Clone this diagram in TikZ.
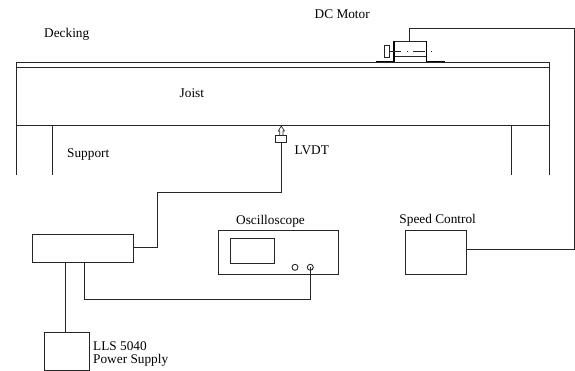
\documentclass[tikz,border=0pt]{standalone}
\usepackage{fontspec}
\setmainfont{Liberation Serif}
\usetikzlibrary{arrows.meta,positioning,calc}

\begin{document}
\begin{tikzpicture}[
    x=1pt, y=-1pt,
    font=\fontsize{13.3}{13}\selectfont,
    box/.style 2 args={
        draw=black!85, line width=0.9pt, fill=none, inner sep=0pt, outer sep=0pt,
        anchor=north west, minimum width=#1pt, minimum height=#2pt},
    knob/.style={
        circle, draw=black!85, line width=0.9pt, inner sep=0pt, outer sep=0pt,
        minimum size=6pt},
    lbl/.style={anchor=west, inner sep=0pt, align=left},
    wire/.style={draw=black!85, line width=0.9pt},
    foot/.style={draw=black, line width=1.4pt},
    axis line/.style={draw=black!85, line width=0.8pt,
        dash pattern=on 12pt off 5.5pt on 1pt off 5.5pt}
]
\useasboundingbox (0,0) rectangle (575,371);

%% ══════════════════════════════ BEAM ══════════════════════════════
\node[box={533.3}{4.8}] (deck) at (16,62.5) {};
\node[box={533.3}{57.7}] (joist) at (16,67.3) {};
\node[lbl] (joist_lbl) at (179.5,93.5) {Joist};
\node[lbl] (deck_lbl) at (44,34) {Decking};

%% Supports hang off the joist underside
\coordinate (sup_a) at (16,125);
\coordinate (sup_b) at (52.7,125);
\coordinate (sup_c) at (511.7,125);
\coordinate (sup_d) at (549,125);
\draw[wire] (sup_a) -- ++(0,50);
\draw[wire] (sup_b) -- ++(0,50);
\draw[wire] (sup_c) -- ++(0,50);
\draw[wire] (sup_d) -- ++(0,50);
\node[lbl] (sup_lbl) at (67,154.5) {Support};

%% ══════════════════════════════ MOTOR ══════════════════════════════
\node[box={32.7}{15}] (motor) at (394,41) {};
\node[box={5.3}{12}] (shaft) at (384,45.5) {};
\node[lbl] (motor_lbl) at (314.5,14.5) {DC Motor};

\draw[foot] (motor.north west) -- ++(0,20.5) -- ++(-18,0);
\draw[foot] (motor.north east) -- ++(0,20.5) -- ++(18.5,0);
\draw[axis line] (shaft.east) -- ++(43.5,0);

%% ══════════════════════════════ SPEED CONTROL ══════════════════════════════
\node[box={61}{44.7}] (speed) at (405.7,230) {};
\node[lbl, above=3.5pt of speed.north, anchor=south, xshift=1.5pt] (speed_lbl) {Speed Control};

\coordinate (motor_tap) at (409,41);
\coordinate (speed_tap) at (466.7,249);
\draw[wire] (motor_tap) -- ++(0,-12.7) -- ++(165.4,0) |- (speed_tap);

%% ══════════════════════════════ LVDT ══════════════════════════════
\node[box={11.2}{7.7}] (lvdt) at (275.7,135) {};
\node[lbl] (lvdt_lbl) at (294.5,150) {LVDT};
\node[box={101}{28}] (amp) at (32.3,234.7) {};

%% Hollow pointer up to the joist
\draw[wire, line width=0.7pt] (lvdt.north) ++(-1.6,0) -- ++(0,-4) -- ++(-1.5,0)
    -- ++(3.1,-5) -- ++(3.1,5) -- ++(-1.5,0) -- ++(0,4);
\coordinate (amp_tap) at (133.3,247.7);
\draw[wire] (lvdt.south) -- ++(0,49.6) -- ++(-123.6,0) |- (amp_tap);

%% ══════════════════════════════ OSCILLOSCOPE ══════════════════════════════
\node[box={120.4}{44.7}] (scope) at (218.3,230) {};
\node[box={44.7}{25}] (screen) at (230,238) {};
\node[knob] (knob_a) at (295,267.3) {};
\node[knob] (knob_b) at (310.3,267.3) {};
\node[lbl, above=2.5pt of scope.north, anchor=south, xshift=-8pt] (scope_lbl) {Oscilloscope};

\coordinate (amp_out) at (84,262.7);
\draw[wire] (amp_out) -- ++(0,36.3) -| (knob_b.center);

%% ══════════════════════════════ SUPPLY ══════════════════════════════
\node[box={44.3}{38}] (supply) at (44.7,332.3) {};
\node[lbl, right=4pt of supply.east, anchor=west, yshift=-2.5pt] (supply_lbl)
    {LLS 5040\\Power Supply};

\coordinate (amp_feed) at (65,262.7);
\draw[wire] (amp_feed) -- (amp_feed |- supply.north);

\end{tikzpicture}
\end{document}
